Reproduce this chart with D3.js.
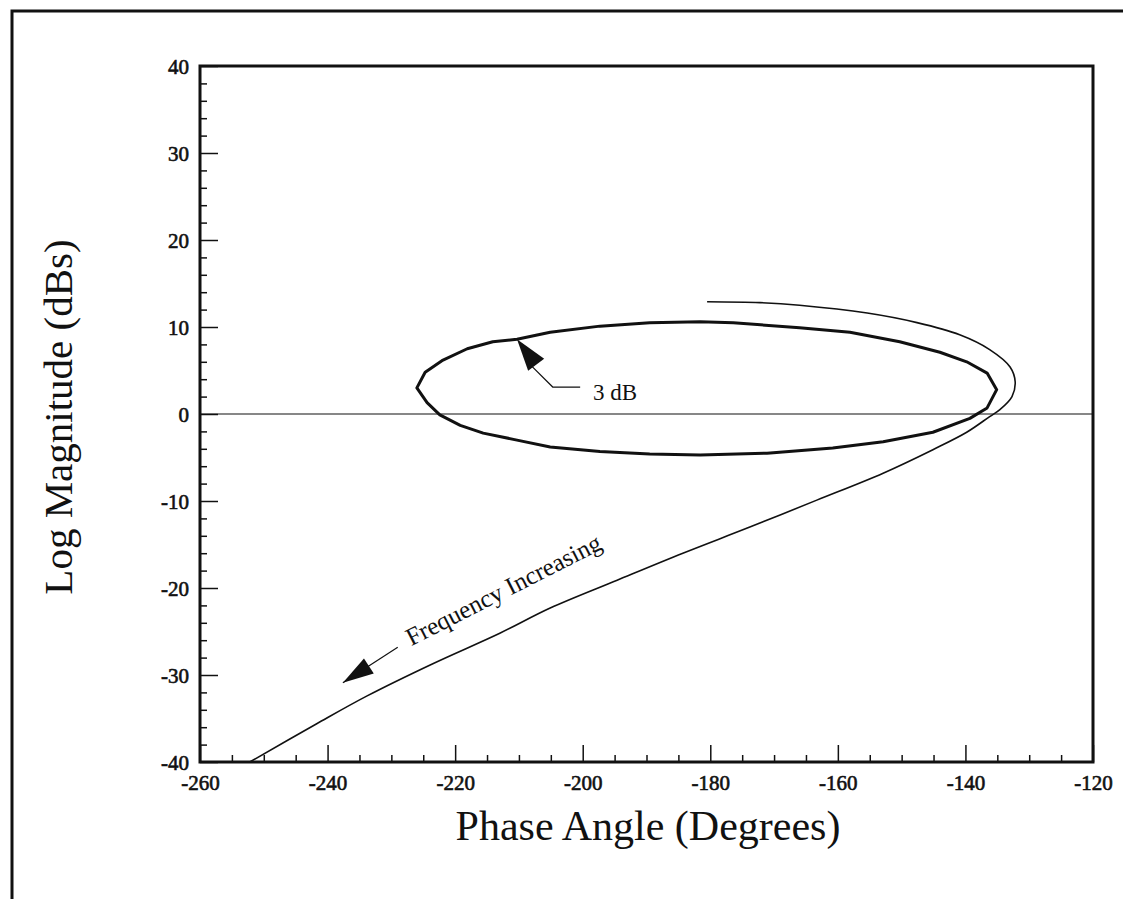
<!DOCTYPE html>
<html>
<head>
<meta charset="utf-8">
<script src="https://cdn.jsdelivr.net/npm/d3@7"></script>
<style>
  body { margin: 0; background: #fff; }
  svg { display: block; }
  text { font-family: "Liberation Serif", "Times New Roman", serif; fill: #111; }
</style>
</head>
<body>
<div id="chart"></div>
<script>
// tick values
const xMajor = [-260, -240, -220, -200, -180, -160, -140, -120];
const xMinor = d3.range(-255, -120, 5).filter(d => d % 20 !== 0);
const yMajor = [-40, -30, -20, -10, 0, 10, 20, 30, 40];
const yMinor = d3.range(-38, 40, 2).filter(d => d % 10 !== 0);

// 3 dB closed-loop contour (phase deg, magnitude dB)
const m3Phase = [-226.0, -224.7, -221.9, -218.1, -214.1, -210.3, -205.1, -197.3, -189.5, -181.6,
  -176.4, -166.0, -158.1, -150.3, -144.0, -139.8, -136.6, -135.1,
  -136.6, -139.3, -145.1, -152.9, -160.8, -171.1, -181.6, -189.5, -197.3, -205.1,
  -210.3, -215.6, -219.2, -222.4, -224.4];
const m3Mag = [3.0, 4.8, 6.2, 7.5, 8.3, 8.6, 9.4, 10.1, 10.5, 10.6,
  10.5, 9.9, 9.4, 8.3, 7.1, 6.0, 4.7, 2.8,
  0.7, -0.5, -2.1, -3.2, -3.9, -4.5, -4.7, -4.6, -4.3, -3.8,
  -3.0, -2.2, -1.3, -0.1, 1.3];

// open-loop frequency response
const olPhase = [-180.5, -172.2, -166.0, -155.4, -147.6, -140.9, -136.2, -133.0, -132.2, -132.7,
  -134.6, -136.2, -139.8, -145.1, -152.9, -163.3, -173.8, -184.3, -194.6, -205.1,
  -213.0, -223.5, -233.8, -241.7, -252.2];
const olMag = [12.9, 12.8, 12.5, 11.6, 10.5, 9.1, 7.4, 5.4, 3.7, 2.0,
  0.5, -0.3, -2.1, -4.1, -6.8, -9.9, -13.0, -16.0, -19.1, -22.3,
  -25.2, -28.7, -32.4, -35.6, -40.0];

// annotations (data coords)
const m3Arrow = { tip: [-210.3, 8.6], base: [-208.0, 5.5], elbow: [-204.7, 3.1], end: [-200.4, 3.1], text: [-198.4, 1.6], label: "3 dB" };
const freqArrow = { tip: [-237.6, -30.9], tail: [-229.0, -26.8], text: [-226.9, -26.7], angle: -27, label: "Frequency Increasing" };

const W = 1123, H = 899;
const margin = { top: 66, right: 30, bottom: 137, left: 200 },
  width = 1093 - margin.left,
  height = 762 - margin.top;

const svg = d3.select("#chart").append("svg")
  .attr("width", W).attr("height", H);

// outer frame (right and bottom run off the page)
svg.append("rect")
  .attr("x", 12).attr("y", 11)
  .attr("width", W + 20).attr("height", H + 20)
  .attr("fill", "none").attr("stroke", "#111").attr("stroke-width", 3);

const g = svg.append("g").attr("transform", `translate(${margin.left},${margin.top})`);

const x = d3.scaleLinear().domain([-260, -120]).range([0, width]);
const y = d3.scaleLinear().domain([-40, 40]).range([height, 0]);

// minor ticks
g.append("g").attr("transform", `translate(0,${height})`)
  .call(d3.axisBottom(x).tickValues(xMinor).tickSize(-7).tickFormat(""))
  .call(a => a.select(".domain").remove());
g.append("g")
  .call(d3.axisLeft(y).tickValues(yMinor).tickSize(-7).tickFormat(""))
  .call(a => a.select(".domain").remove());

// major ticks with labels
const xAxis = g.append("g").attr("transform", `translate(0,${height})`)
  .call(d3.axisBottom(x).tickValues(xMajor).tickSize(-17).tickPadding(13).tickFormat(d => String(d)))
  .call(a => a.select(".domain").remove());
const yAxis = g.append("g")
  .call(d3.axisLeft(y).tickValues(yMajor).tickSize(-18).tickPadding(11).tickFormat(d => String(d)))
  .call(a => a.select(".domain").remove());

g.selectAll(".tick line").attr("stroke", "#111").attr("stroke-width", 1.5);
[xAxis, yAxis].forEach(a => a.selectAll("text")
  .attr("font-size", 21)
  .attr("font-family", "Liberation Serif, serif")
  .attr("stroke", "#111").attr("stroke-width", 0.6)
  .attr("fill", "#111"));
yAxis.selectAll("text").attr("dy", "0.35em");

// zero dB line
g.append("line")
  .attr("x1", 0).attr("x2", width)
  .attr("y1", y(0)).attr("y2", y(0))
  .attr("stroke", "#111").attr("stroke-width", 1.2);

// plot frame
g.append("rect")
  .attr("width", width).attr("height", height)
  .attr("fill", "none").attr("stroke", "#111").attr("stroke-width", 3);

// 3 dB contour
const m3Data = m3Phase.map((p, i) => [p, m3Mag[i]]);
g.append("path")
  .datum(m3Data)
  .attr("fill", "none").attr("stroke", "#111").attr("stroke-width", 3)
  .attr("stroke-linejoin", "round")
  .attr("d", d3.line().x(d => x(d[0])).y(d => y(d[1])).curve(d3.curveLinearClosed));

// open-loop response
const olData = olPhase.map((p, i) => [p, olMag[i]]);
g.append("path")
  .datum(olData)
  .attr("fill", "none").attr("stroke", "#111").attr("stroke-width", 1.6)
  .attr("d", d3.line().x(d => x(d[0])).y(d => y(d[1])).curve(d3.curveCatmullRom));

// arrowhead helper: solid triangle at tip pointing away from "from"
function arrowHead(tip, from, len, half) {
  const tx = x(tip[0]), ty = y(tip[1]);
  const fx = x(from[0]), fy = y(from[1]);
  const dx = fx - tx, dy = fy - ty, l = Math.hypot(dx, dy);
  const ux = dx / l, uy = dy / l;
  const bx = tx + ux * len, by = ty + uy * len;
  return [[tx, ty], [bx - uy * half, by + ux * half], [bx + uy * half, by - ux * half]];
}

// "3 dB" callout
g.append("path")
  .attr("fill", "none").attr("stroke", "#111").attr("stroke-width", 1.2)
  .attr("d", d3.line()([m3Arrow.base, m3Arrow.elbow, m3Arrow.end].map(d => [x(d[0]), y(d[1])])));
g.append("polygon")
  .attr("points", arrowHead(m3Arrow.tip, m3Arrow.elbow, 32, 10).join(" "))
  .attr("fill", "#111");
g.append("text")
  .attr("x", x(m3Arrow.text[0])).attr("y", y(m3Arrow.text[1]))
  .attr("font-size", 23)
  .text(m3Arrow.label);

// "Frequency Increasing" arrow
g.append("line")
  .attr("x1", x(freqArrow.tail[0])).attr("y1", y(freqArrow.tail[1]))
  .attr("x2", x(freqArrow.tip[0])).attr("y2", y(freqArrow.tip[1]))
  .attr("stroke", "#111").attr("stroke-width", 1.2);
g.append("polygon")
  .attr("points", arrowHead(freqArrow.tip, freqArrow.tail, 31, 9).join(" "))
  .attr("fill", "#111");
g.append("text")
  .attr("transform", `translate(${x(freqArrow.text[0])},${y(freqArrow.text[1])}) rotate(${freqArrow.angle})`)
  .attr("font-size", 25)
  .text(freqArrow.label);

// axis titles
svg.append("text")
  .attr("x", 648).attr("y", 840)
  .attr("text-anchor", "middle")
  .attr("font-size", 42)
  .text("Phase Angle (Degrees)");
svg.append("text")
  .attr("transform", "translate(72,417) rotate(-90)")
  .attr("text-anchor", "middle")
  .attr("font-size", 41)
  .text("Log Magnitude (dBs)");
</script>
</body>
</html>
